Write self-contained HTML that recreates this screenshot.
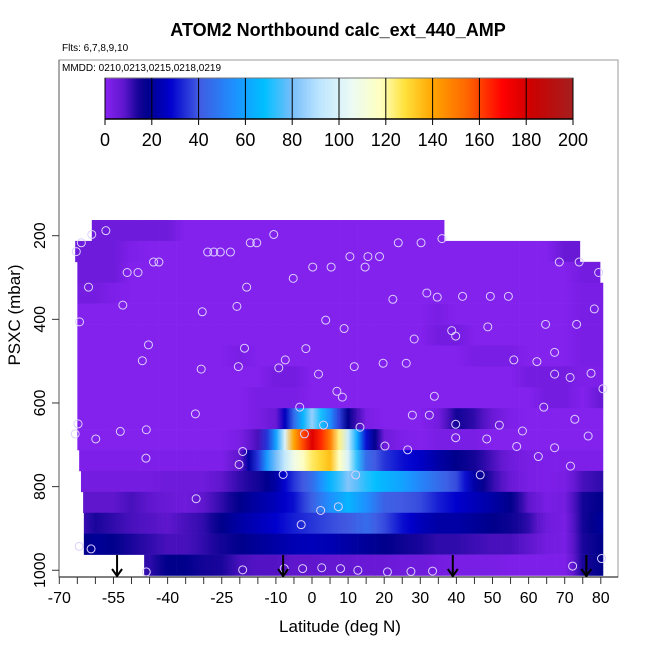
<!DOCTYPE html>
<html><head><meta charset="utf-8"><style>html,body{margin:0;padding:0;background:#fff}svg{display:block;font-family:"Liberation Sans",Arial,sans-serif}</style></head>
<body>
<svg id="chart" width="650" height="650" viewBox="0 0 650 650">
<text x="338" y="36" text-anchor="middle" font-size="18" font-weight="bold">ATOM2 Northbound calc_ext_440_AMP</text>
<text x="62" y="51" font-size="10">Flts: 6,7,8,9,10</text>
<rect x="59" y="60" width="559" height="517" fill="none" stroke="#999" stroke-width="1"/>
<text x="62" y="71" font-size="10">MMDD: 0210,0213,0215,0218,0219</text>
<g id="cbar"></g>
<g id="heat"></g>
<g id="pts"></g>
<g id="arrows"></g>
<g id="axes"></g>
<text x="340" y="632" text-anchor="middle" font-size="17">Latitude (deg N)</text>
<text transform="translate(20,315) rotate(-90)" text-anchor="middle" font-size="17">PSXC (mbar)</text>
</svg>
<script>
const lats = [-65,-60,-55,-50,-45,-40,-35,-30,-25,-20,-15,-10,-5,0,5,10,15,20,25,30,35,40,45,50,55,60,65,70,75,80];
const rowTop = [162.5,212.5,262.5,312.5,362.5,412.5,462.5,512.5,562.5,612.5,662.5,712.5,762.5,812.5,862.5,912.5,962.5];
const rowLo = [-61,-65.6,-65,-65,-65,-65,-65,-65,-65,-65,-65,-64.5,-64,-63.4,-63.2,-63.2,-46.5];
const rowHi = [36.6,74.2,79.8,80.6,80.6,80.6,80.6,80.6,80.6,80.6,80.6,80.6,80.6,80.6,80.6,80.6,80.6];
const n=null;
const row0 = [n,5,5,5,5,5,1,1,1,1,1,1,1,1,1,1,1,1,1,1,1,n,n,n,n,n,n,n,n,n];
const row1 = [5,5,5,2,1,1,1,1,1,1,1,1,1,1,1,1,1,1,1,1,1,1,1,1,1,1,1,6,6,n];
const row2 = [5,5,5,1,1,1,1,1,1,1,1,1,1,1,1,1,1,1,1,1,1,1,1,1,1,1,1,1,4,4];
const row3 = [4,4,2,1,1,1,1,1,1,1,1,1,1,1,1,1,1,1,1,1,1,1,1,1,1,1,1,1,3,3];
const row4 = [1,1,1,1,1,1,1,1,1,1,1,1,1,1,1,1,1,1,1,1,3,1,1,1,1,1,1,1,3,3];
const row5 = [1,1,1,1,1,1,1,1,1,1,1,1,1,1,1,1,1,1,1,1,4,4,1,1,1,1,1,1,3,3];
const row6 = [1,1,1,1,1,1,1,1,1,3,1,1,1,1,1,1,1,1,1,1,1,1,3,3,3,1,1,1,3,3];
const row7 = [1,1,1,1,1,1,1,1,1,1,1,4,4,1,1,1,1,1,1,1,1,1,1,1,1,4,4,4,2,2];
const row8 = [1,1,1,1,1,1,1,1,1,1,3,3,3,1,1,1,1,1,1,1,1,1,1,1,1,1,4,4,1,6];
const row9 = [1,1,1,1,1,1,1,1,1,1,3,6,45,85,55,18,3,1,1,1,4,15,12,6,2,1,1,1,1,1];
const row10 = [1,1,1,1,1,1,1,1,1,3,10,60,140,178,150,95,30,5,2,1,3,3,3,1,1,1,1,1,1,1];
const row11 = [2,2,2,2,2,2,2,2,2,8,35,80,108,125,135,100,45,35,30,27,22,18,15,10,5,3,2,2,2,2];
const row12 = [4,4,4,4,4,5,5,5,8,12,15,22,35,45,65,82,72,65,60,52,45,38,22,12,6,3,2,3,10,12];
const row13 = [8,8,8,10,8,6,5,8,12,18,22,25,30,42,55,65,55,42,40,38,32,28,25,22,18,8,3,4,15,18];
const row14 = [10,14,12,10,9,8,10,12,18,22,25,28,32,35,38,40,45,38,30,25,22,22,20,18,16,12,5,3,15,20];
const row15 = [16,20,18,14,12,10,10,12,15,18,20,22,24,25,24,22,20,18,16,14,12,12,11,10,10,8,4,3,14,18];
const row16 = [n,n,n,n,12,18,18,15,14,10,9,9,8,8,7,7,6,6,5,5,4,3,3,3,2,2,2,2,14,18];
const rows = [row0,row1,row2,row3,row4,row5,row6,row7,row8,row9,row10,row11,row12,row13,row14,row15,row16];
const ptLat = [-61.0,-57.1,-63.9,-65.3,-10.6,-17.1,-15.3,-28.9,-27.2,-25.4,-22.6,-43.9,-42.4,-51.2,-48.2,-61.9,-52.4,-64.4,-18.1,-20.8,-30.4,-5.2,0.2,5.3,10.5,15.5,18.7,14.7,23.9,30.2,36.0,22.4,31.8,34.7,41.7,49.4,54.4,68.5,74.0,79.4,78.2,64.7,73.3,48.7,38.7,39.8,28.3,3.8,8.9,-45.3,-47.0,-18.7,-1.7,-7.4,-9.2,-20.4,-30.7,1.8,11.7,19.7,26.1,55.9,62.3,67.2,67.2,71.5,77.3,80.6,6.9,8.4,33.9,64.2,-32.3,-3.4,27.8,32.5,72.8,-64.8,-65.6,-59.9,-53.1,-45.9,3.2,13.3,-2.1,39.8,51.9,58.3,39.8,48.4,56.7,67.2,76.5,62.7,71.6,-19.2,-20.2,-46.0,20.2,26.5,-8.0,12.1,46.6,-32.1,2.4,7.3,-3.0,-64.5,-61.2,-45.9,-19.2,-7.7,-2.6,2.7,7.9,12.7,20.9,27.4,33.4,72.2,80.2];
const ptP = [197,188,217,238,197,217,217,239,239,239,239,263,263,288,288,323,366,406,323,369,382,302,275,275,250,250,250,275,217,217,207,352,337,347,345,345,345,263,263,288,375,412,412,418,427,440,447,402,422,461,499,469,470,497,516,513,519,531,513,505,505,497,501,479,531,539,529,566,572,586,584,610,626,610,629,629,639,650,674,686,668,664,653,658,674,651,653,667,683,686,704,707,679,728,751,716,747,732,703,712,771,772,772,829,857,848,891,943,949,1004,999,996,996,994,996,1000,1004,1003,1002,990,972];
const arrowLats = [-54,-8,39,76];
const xTicks = [-70,-65,-60,-55,-50,-45,-40,-35,-30,-25,-20,-15,-10,-5,0,5,10,15,20,25,30,35,40,45,50,55,60,65,70,75,80];
const xLabels = [-70,-55,-40,-25,-10,0,10,20,30,40,50,60,70,80];
const yTicks = [200,400,600,800,1000];
const cbTicks = [0,20,40,60,80,100,120,140,160,180,200];

const NS='http://www.w3.org/2000/svg';
function X(lat){return 312+3.61*lat;}
function Y(p){return 235.7+(p-200)*0.4182;}
function CB(v){return 105+468*v/200;}
const stops=[[0,136,34,242],[8,95,22,205],[14,25,5,155],[18,0,0,139],[28,0,0,205],[40,65,90,225],[55,30,144,255],[68,0,191,255],[80,120,190,250],[92,190,230,255],[105,235,250,245],[118,255,255,190],[128,255,225,60],[140,255,165,0],[155,255,100,0],[170,255,0,0],[182,205,0,0],[200,165,30,30]];
function col(v){v=Math.max(0,Math.min(200,v));for(let i=1;i<stops.length;i++){if(v<=stops[i][0]){const a=stops[i-1],b=stops[i],t=(v-a[0])/(b[0]-a[0]);return 'rgb('+[1,2,3].map(k=>Math.round(a[k]+(b[k]-a[k])*t)).join(',')+')';}}return 'rgb(165,30,30)';}
function mk(tag,attrs,parent){const e=document.createElementNS(NS,tag);for(const k in attrs)e.setAttribute(k,attrs[k]);parent.appendChild(e);return e;}

const cbar=document.getElementById('cbar');
const defs=mk('defs',{},document.getElementById('chart'));
for(let v=0;v<200;v+=1){const r=mk('rect',{x:CB(v),y:78,width:468/200+0.4,height:41,fill:col(v+0.5)},cbar);

}
const cbf=mk('rect',{x:105,y:78,width:468,height:41,fill:'none',stroke:'#777','stroke-width':1},cbar);


mk('line',{x1:105,y1:119,x2:573,y2:119,stroke:'#000','stroke-width':1.5},cbar);
cbTicks.forEach(v=>{mk('line',{x1:CB(v),y1:78,x2:CB(v),y2:125,stroke:'#000','stroke-width':1},cbar);
const t=mk('text',{x:CB(v),y:146,'text-anchor':'middle','font-size':18},cbar);t.textContent=v;

});

const heat=document.getElementById('heat');
rows.forEach((vals,k)=>{
  const y0=Y(rowTop[k]),y1=Math.min(Y(rowTop[k]+50),577);
  vals.forEach((v,i)=>{
    if(v===null)return;
    let l=Math.max(lats[i]-2.5,rowLo[k]),h=Math.min(lats[i]+2.5,rowHi[k]);
    if(h<=l)return;
    const pv=(i>0&&vals[i-1]!==null)?vals[i-1]:v, nv=(i<vals.length-1&&vals[i+1]!==null)?vals[i+1]:v;
    const gid='g'+k+'_'+i;
    const g=mk('linearGradient',{id:gid,gradientUnits:'userSpaceOnUse',x1:X(lats[i]-2.5),x2:X(lats[i]+2.5),y1:0,y2:0},defs);
    mk('stop',{offset:0,'stop-color':col((pv+v)/2)},g);
    mk('stop',{offset:0.5,'stop-color':col(v)},g);
    mk('stop',{offset:1,'stop-color':col((nv+v)/2)},g);
    const r=mk('rect',{x:X(l),y:y0,width:X(h)-X(l)+0.3,height:y1-y0+0.3,fill:'url(#'+gid+')'},heat);
    
    
  });
});

const pts=document.getElementById('pts');
ptLat.forEach((la,i)=>{const c=mk('circle',{cx:X(la),cy:Y(ptP[i]),r:4,fill:'none',stroke:'#dccfff','stroke-width':1},pts);

});

const ar=document.getElementById('arrows');
arrowLats.forEach(la=>{const g=mk('g',{},ar);


const x=X(la);mk('line',{x1:x,y1:555,x2:x,y2:576,stroke:'#000','stroke-width':2},g);
mk('polyline',{points:(x-5)+',569 '+x+',576 '+(x+5)+',569',fill:'none',stroke:'#000','stroke-width':2},g);});

const ax=document.getElementById('axes');
mk('line',{x1:59,y1:577,x2:618,y2:577,stroke:'#000','stroke-width':1},ax);
mk('line',{x1:59,y1:60,x2:59,y2:577,stroke:'#555','stroke-width':1},ax);
xTicks.forEach(v=>{mk('line',{x1:X(v),y1:577,x2:X(v),y2:584,stroke:'#333','stroke-width':1},ax);});
xLabels.forEach(v=>{const t=mk('text',{x:X(v),y:603,'text-anchor':'middle','font-size':16},ax);t.textContent=v;

});
yTicks.forEach(v=>{mk('line',{x1:52,y1:Y(v),x2:59,y2:Y(v),stroke:'#333','stroke-width':1},ax);
const t=mk('text',{transform:'translate(45,'+Y(v)+') rotate(-90)','text-anchor':'middle','font-size':16},ax);t.textContent=v;

});
</script>
</body></html>
